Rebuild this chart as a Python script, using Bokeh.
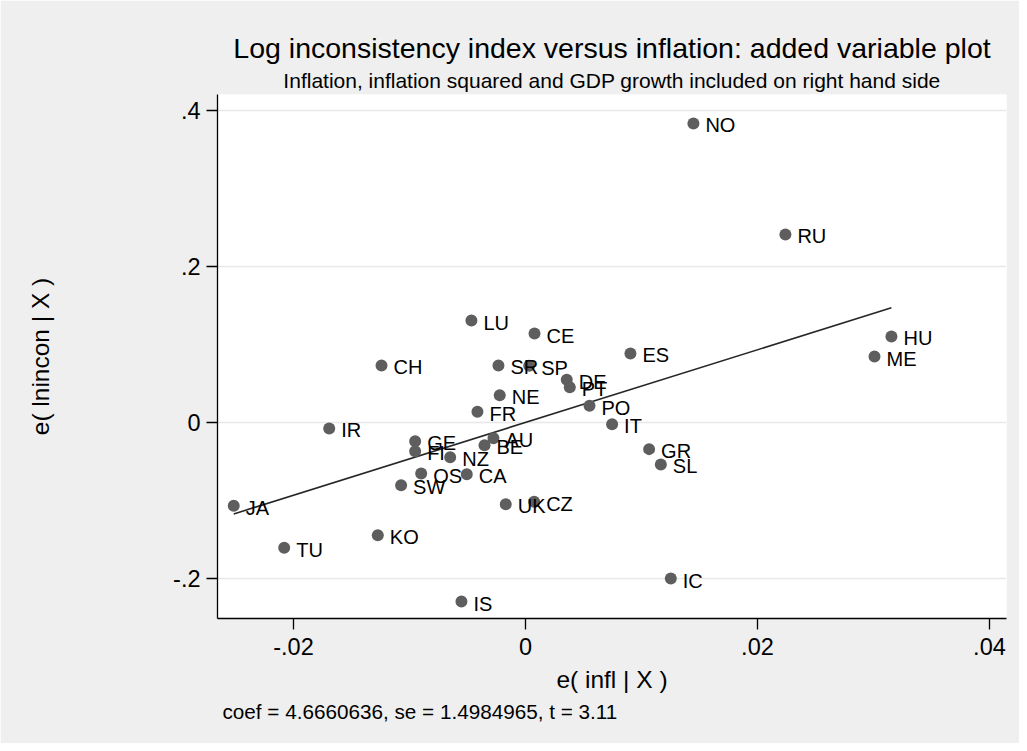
from bokeh.plotting import figure
from bokeh.models import Range1d, FixedTicker, Title, ColumnDataSource
from bokeh.core.properties import value
from bokeh.embed import file_html
from bokeh.resources import INLINE

# Data: added-variable residuals
countries = ["NO", "RU", "HU", "ME", "LU", "CE", "ES", "CH", "SR", "SP",
             "DE", "PT", "NE", "PO", "FR", "IT", "IR", "GE", "FI", "AU",
             "BE", "NZ", "OS", "CA", "SW", "UK", "CZ", "GR", "SL", "IC",
             "JA", "TU", "KO", "IS"]
e_infl = [0.01448, 0.02241, 0.03155, 0.03009, -0.00466, 0.00078, 0.00905, -0.01241, -0.00233, 0.00032,
          0.00356, 0.00382, -0.00222, 0.00552, -0.00414, 0.00747, -0.01692, -0.00951, -0.00951, -0.00276,
          -0.00353, -0.00649, -0.00899, -0.00506, -0.01072, -0.00170, 0.00075, 0.01066, 0.01167, 0.01253,
          -0.02515, -0.02080, -0.01273, -0.00552]
e_lnincon = [0.3838, 0.2413, 0.1104, 0.0847, 0.1309, 0.1142, 0.0886, 0.0732, 0.0732, 0.0728,
             0.0548, 0.0453, 0.0351, 0.0214, 0.0137, -0.0022, -0.0077, -0.0240, -0.0368, -0.0201,
             -0.0291, -0.0445, -0.0655, -0.0663, -0.0805, -0.1048, -0.1018, -0.0342, -0.0539, -0.2003,
             -0.1070, -0.1609, -0.1446, -0.2298]
coef = 4.6660636
se = 1.4984965
tstat = 3.11

x_ticks = [-0.02, 0.0, 0.02, 0.04]
x_tick_labels = ["-.02", "0", ".02", ".04"]
y_ticks = [-0.2, 0.0, 0.2, 0.4]
y_tick_labels = ["-.2", "0", ".2", ".4"]

FONT = "Liberation Sans"
BG = "#efefef"

p = figure(width=1019, height=743,
           x_range=Range1d(-0.02655, 0.04147), y_range=Range1d(-0.2516, 0.421),
           output_backend="svg", toolbar_location=None,
           min_border_left=217, min_border_right=13, min_border_top=94, min_border_bottom=125)
p.background_fill_color = "white"
p.border_fill_color = BG
p.outline_line_color = None

# Subtitle (nearest the frame), then title
p.add_layout(Title(text="Inflation, inflation squared and GDP growth included on right hand side",
                   text_font=FONT, text_font_size="21px", text_font_style="normal",
                   align="center", offset=8, text_color="black", standoff=5), "above")
p.add_layout(Title(text="Log inconsistency index versus inflation: added variable plot",
                   text_font=FONT, text_font_size="28.5px", text_font_style="normal",
                   align="center", text_color="black", standoff=2), "above")

# axes
for ax in (p.xaxis[0], p.yaxis[0]):
    ax.axis_line_color = "black"
    ax.axis_line_width = 1.3
    ax.major_tick_line_color = "black"
    ax.major_tick_line_width = 1.3
    ax.major_tick_in = 0
    ax.major_tick_out = 11
    ax.minor_tick_line_color = None
    ax.major_label_text_font = FONT
    ax.major_label_text_font_size = "23.5px"
    ax.major_label_text_color = "black"
    ax.axis_label_text_font = FONT
    ax.axis_label_text_font_size = "24.5px"
    ax.axis_label_text_font_style = "normal"
    ax.axis_label_text_color = "black"

p.xaxis.ticker = FixedTicker(ticks=x_ticks)
p.xaxis.major_label_overrides = {t: l for t, l in zip(x_ticks, x_tick_labels)}
p.yaxis.ticker = FixedTicker(ticks=y_ticks)
p.yaxis.major_label_overrides = {t: l for t, l in zip(y_ticks, y_tick_labels)}
p.xaxis.axis_label = "e( infl | X )"
p.yaxis.axis_label = "e( lnincon | X )"
p.xaxis.major_label_standoff = 8
p.xaxis.axis_label_standoff = 8
p.yaxis.major_label_standoff = 6
p.yaxis.axis_label_standoff = 116

p.xgrid.grid_line_color = None
p.ygrid.grid_line_color = "#e8e8e8"
p.ygrid.grid_line_width = 1.5
p.ygrid.ticker = FixedTicker(ticks=y_ticks)

p.add_layout(Title(text="coef = %.7f, se = %.7f, t = %.2f" % (coef, se, tstat),
                   text_font=FONT, text_font_size="20.7px", text_font_style="normal",
                   align="left", offset=5, text_color="black", standoff=5), "below")

src = ColumnDataSource(dict(x=e_infl, y=e_lnincon, name=countries))

# fitted line through the residual scatter
xmin, xmax = min(e_infl), max(e_infl)
p.line([xmin, xmax], [coef * xmin, coef * xmax], line_color="#262626", line_width=1.6)

p.scatter("x", "y", source=src, size=12, marker="circle",
          fill_color="#5e5e5e", line_color=None)
p.text("x", "y", text="name", source=src, x_offset=12, y_offset=2,
       text_font=value(FONT), text_font_size="20px", text_baseline="middle",
       text_align="left", text_color="black")

open("out.html", "w").write(file_html(p, INLINE))
